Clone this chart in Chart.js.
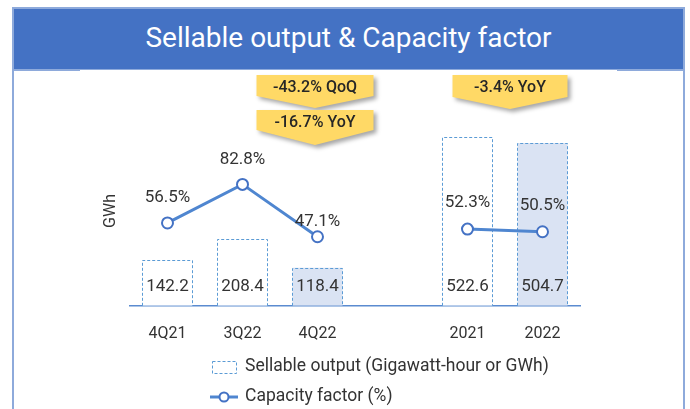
<!DOCTYPE html>
<html>
<head>
<meta charset="utf-8">
<script src="https://cdn.jsdelivr.net/npm/chart.js@4.4.1/dist/chart.umd.min.js"></script>
<style>
  html, body { margin: 0; padding: 0; background: #fff; overflow: hidden; }
  body { width: 690px; height: 409px; position: relative; font-family: Roboto, sans-serif; }
  #frame { position: absolute; left: 12px; top: 7px; width: 669px; height: 420px; border: 2px solid #8eaadb; border-bottom: none; }
  #title { position: absolute; left: 14px; top: 9px; width: 669px; height: 60px; background: #4472c4; border-bottom: 2px solid #8eaadb;
           color: #fff; font-size: 28px; line-height: 58px; text-align: center; }
  #cut { position: absolute; left: 80px; top: 70px; width: 537px; height: 2px; background: #fff; }
  #chart { position: absolute; left: 0; top: 0; }
</style>
</head>
<body>
<div id="frame"></div>
<div id="title">Sellable output &amp; Capacity factor</div>
<div id="cut"></div>
<canvas id="chart" width="690" height="409"></canvas>
<script>
// periods (the empty slot keeps the gap between quarters and years)
const periods = ['4Q21', '3Q22', '4Q22', '', '2021', '2022'];
const sellableOutput = [142.2, 208.4, 118.4, null, 522.6, 504.7];   // GWh
const capacityFactor = [56.5, 82.8, 47.1, null, 52.3, 50.5];        // %
const highlighted = [false, false, true, false, false, true];
const callouts = ['-43.2% QoQ', '-16.7% YoY', '-3.4% YoY'];
const legendLabels = ['Sellable output (Gigawatt-hour or GWh)', 'Capacity factor (%)'];

const labelLift = [25, 25, 15, 0, 26, 26];
const FONT = 'Roboto, sans-serif';
const TXT = '#333';

const dashedBars = {
  id: 'dashedBars',
  afterDatasetDraw(chart, args) {
    if (args.index !== 0) return;
    const ctx = chart.ctx;
    ctx.save();
    ctx.strokeStyle = '#5b9bd5';
    ctx.lineWidth = 1;
    ctx.setLineDash([3, 2]);
    args.meta.data.forEach((bar, i) => {
      if (sellableOutput[i] == null) return;
      const { x, y, base, width } = bar.getProps(['x', 'y', 'base', 'width'], true);
      const l = Math.round(x - width / 2) + 0.5;
      const r = Math.round(x + width / 2) - 0.5;
      const t = Math.round(y) + 0.5;
      ctx.beginPath();
      ctx.moveTo(l, base);
      ctx.lineTo(l, t);
      ctx.lineTo(r, t);
      ctx.lineTo(r, base);
      ctx.stroke();
    });
    ctx.restore();
  }
};

function drawCallout(ctx, cx, top, w, sideBottom, tip, text) {
  ctx.save();
  ctx.shadowColor = 'rgba(0,0,0,0.35)';
  ctx.shadowBlur = 4;
  ctx.shadowOffsetX = 3;
  ctx.shadowOffsetY = 3;
  ctx.fillStyle = '#ffd966';
  ctx.beginPath();
  ctx.moveTo(cx - w / 2, top);
  ctx.lineTo(cx + w / 2, top);
  ctx.lineTo(cx + w / 2, sideBottom);
  ctx.lineTo(cx, tip);
  ctx.lineTo(cx - w / 2, sideBottom);
  ctx.closePath();
  ctx.fill();
  ctx.restore();
  ctx.fillStyle = '#262626';
  ctx.font = '500 16px ' + FONT;
  ctx.textAlign = 'center';
  ctx.textBaseline = 'middle';
  ctx.fillText(text, cx, top + 13);
}

const extras = {
  id: 'extras',
  afterDatasetsDraw(chart) {
    const ctx = chart.ctx;
    const bars = chart.getDatasetMeta(0).data;
    const pts = chart.getDatasetMeta(1).data;
    ctx.save();
    ctx.fillStyle = TXT;
    ctx.textAlign = 'center';
    ctx.textBaseline = 'middle';
    ctx.font = '17px ' + FONT;
    bars.forEach((b, i) => {
      if (sellableOutput[i] == null) return;
      ctx.fillText(sellableOutput[i].toFixed(1), b.x, b.base - 19);
    });
    pts.forEach((p, i) => {
      if (capacityFactor[i] == null) return;
      ctx.fillText(capacityFactor[i].toFixed(1) + '%', p.x, p.y - labelLift[i]);
    });
    ctx.restore();
  },
  afterDraw(chart) {
    const ctx = chart.ctx;
    const xs = chart.scales.x;
    ctx.save();
    // unit label
    ctx.translate(111, 211);
    ctx.rotate(-Math.PI / 2);
    ctx.fillStyle = TXT;
    ctx.font = '16px ' + FONT;
    ctx.textAlign = 'center';
    ctx.textBaseline = 'middle';
    ctx.fillText('GWh', 0, 0);
    ctx.restore();

    const q = xs.getPixelForValue(2) - 2.5;
    const yr = (xs.getPixelForValue(4) + xs.getPixelForValue(5)) / 2 + 5;
    drawCallout(ctx, q, 75, 117, 96, 108, callouts[0]);
    drawCallout(ctx, q, 110, 117, 130, 145, callouts[1]);
    drawCallout(ctx, yr, 75, 115, 97, 109, callouts[2]);

    // legend
    ctx.save();
    ctx.strokeStyle = '#5b9bd5';
    ctx.lineWidth = 1;
    ctx.setLineDash([3, 2]);
    ctx.strokeRect(212.5, 361.5, 24, 12);
    ctx.setLineDash([]);
    ctx.strokeStyle = '#4f86d0';
    ctx.lineWidth = 3;
    ctx.beginPath();
    ctx.moveTo(210, 397);
    ctx.lineTo(238, 397);
    ctx.stroke();
    ctx.beginPath();
    ctx.arc(224, 397, 4.5, 0, Math.PI * 2);
    ctx.fillStyle = '#fff';
    ctx.fill();
    ctx.strokeStyle = '#4472c4';
    ctx.lineWidth = 2;
    ctx.stroke();
    ctx.fillStyle = TXT;
    ctx.font = '17.5px ' + FONT;
    ctx.textAlign = 'left';
    ctx.textBaseline = 'middle';
    ctx.fillText(legendLabels[0], 245, 367);
    ctx.fillText(legendLabels[1], 245, 397);
    ctx.restore();
  }
};

new Chart(document.getElementById('chart'), {
  data: {
    labels: periods,
    datasets: [
      {
        type: 'bar',
        label: legendLabels[0],
        data: sellableOutput,
        backgroundColor: highlighted.map(h => h ? '#dae3f3' : '#ffffff'),
        borderWidth: 0,
        categoryPercentage: 1,
        barPercentage: 0.667,
        yAxisID: 'y',
        order: 1
      },
      {
        type: 'line',
        label: legendLabels[1],
        data: capacityFactor,
        borderColor: '#4f86d0',
        borderWidth: 3,
        pointRadius: 5.5,
        pointBorderWidth: 2,
        pointBorderColor: '#4472c4',
        pointBackgroundColor: '#fff',
        spanGaps: false,
        yAxisID: 'y1',
        order: 0
      }
    ]
  },
  options: {
    responsive: false,
    animation: false,
    devicePixelRatio: 1,
    layout: { padding: { left: 130, right: 110, top: 75, bottom: 46 } },
    plugins: { legend: { display: false }, tooltip: { enabled: false } },
    scales: {
      x: {
        offset: true,
        grid: { display: false, drawTicks: false },
        border: { display: true, color: '#5b8bd0', width: 1.5 },
        ticks: { color: TXT, font: { family: FONT, size: 16 }, padding: 19 }
      },
      y: { display: false, min: 0, max: 716 },
      y1: { display: false, min: 0, max: 157.4 }
    }
  },
  plugins: [dashedBars, extras]
});
</script>
</body>
</html>
